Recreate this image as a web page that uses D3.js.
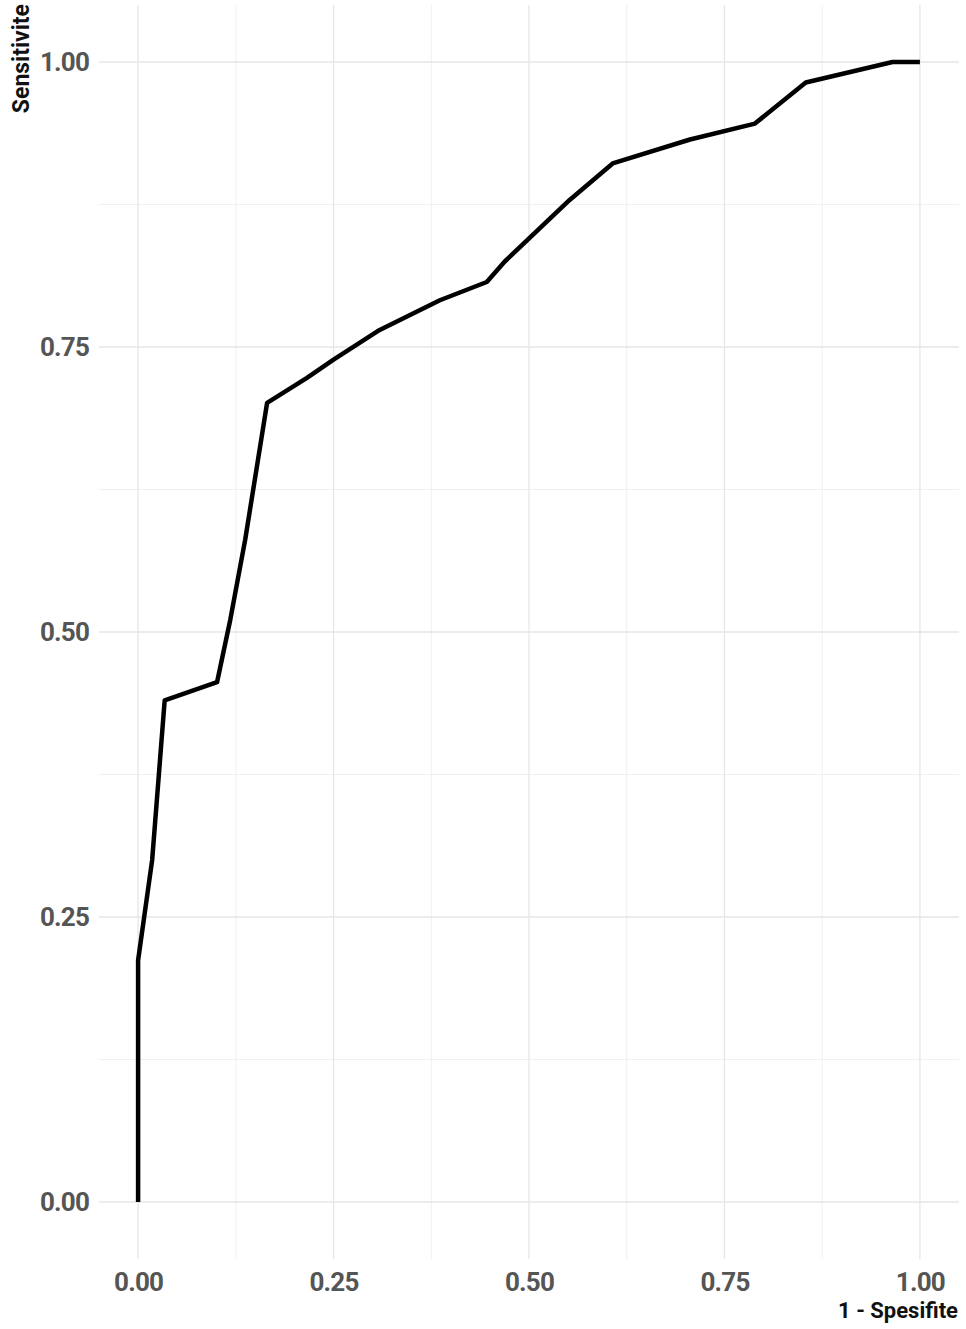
<!DOCTYPE html>
<html>
<head>
<meta charset="utf-8">
<script src="https://cdn.jsdelivr.net/npm/d3@7"></script>
<style>
  body { margin: 0; background: #fff; }
  text { font-family: Roboto, "Liberation Sans", sans-serif; font-weight: bold; }
</style>
</head>
<body>
<div id="chart"></div>
<script>
// ROC curve points (1 - specificity, sensitivity)
var fpr = [0, 0, 0.018, 0.034, 0.101, 0.118, 0.137, 0.165, 0.216, 0.25, 0.309, 0.386, 0.446, 0.469, 0.552, 0.607, 0.706, 0.789, 0.854, 0.965, 1];
var tpr = [0, 0.212, 0.30, 0.44, 0.456, 0.511, 0.581, 0.701, 0.723, 0.739, 0.765, 0.791, 0.807, 0.825, 0.879, 0.911, 0.932, 0.946, 0.982, 1, 1];
var majorTicks = [0, 0.25, 0.5, 0.75, 1];
var minorTicks = [0.125, 0.375, 0.625, 0.875];
var xTitle = "1 - Spesifite";
var yTitle = "Sensitivite";

var width = 966, height = 1329;
var panel = {left: 99, right: 959, top: 5, bottom: 1259};

var x = d3.scaleLinear().domain([-0.05, 1.05]).range([panel.left, panel.right]);
var y = d3.scaleLinear().domain([-0.05, 1.05]).range([panel.bottom, panel.top]);

var svg = d3.select("#chart")
  .append("svg")
  .attr("width", width)
  .attr("height", height);

// grid - minor
svg.append("g").selectAll("line")
  .data(minorTicks)
  .enter().append("line")
  .attr("x1", function(d) { return x(d); })
  .attr("x2", function(d) { return x(d); })
  .attr("y1", panel.top).attr("y2", panel.bottom)
  .attr("stroke", "#ececec").attr("stroke-width", 0.8);
svg.append("g").selectAll("line")
  .data(minorTicks)
  .enter().append("line")
  .attr("y1", function(d) { return y(d); })
  .attr("y2", function(d) { return y(d); })
  .attr("x1", panel.left).attr("x2", panel.right)
  .attr("stroke", "#ececec").attr("stroke-width", 0.8);

// grid - major
svg.append("g").selectAll("line")
  .data(majorTicks)
  .enter().append("line")
  .attr("x1", function(d) { return x(d); })
  .attr("x2", function(d) { return x(d); })
  .attr("y1", panel.top).attr("y2", panel.bottom)
  .attr("stroke", "#e6e6e6").attr("stroke-width", 1.3);
svg.append("g").selectAll("line")
  .data(majorTicks)
  .enter().append("line")
  .attr("y1", function(d) { return y(d); })
  .attr("y2", function(d) { return y(d); })
  .attr("x1", panel.left).attr("x2", panel.right)
  .attr("stroke", "#e6e6e6").attr("stroke-width", 1.3);

// axes (labels only)
var xAxis = svg.append("g")
  .attr("transform", "translate(0," + (panel.bottom + 4) + ")")
  .call(d3.axisBottom(x).tickValues(majorTicks).tickFormat(d3.format(".2f")).tickSize(0));
var yAxis = svg.append("g")
  .attr("transform", "translate(" + (panel.left - 7) + ",0)")
  .call(d3.axisLeft(y).tickValues(majorTicks).tickFormat(d3.format(".2f")).tickSize(0));
[xAxis, yAxis].forEach(function(a) {
  a.select(".domain").remove();
  a.selectAll("text")
    .style("font-family", "Roboto, sans-serif")
    .style("font-weight", "bold")
    .style("font-size", "26px")
    .style("letter-spacing", "-0.8px")
    .attr("fill", "#555");
});
xAxis.selectAll("text").attr("dy", "0.95em");

// titles
svg.append("text")
  .attr("x", 958)
  .attr("y", 1318)
  .attr("text-anchor", "end")
  .style("font-size", "22px")
  .attr("fill", "#111")
  .text(xTitle);

svg.append("text")
  .attr("transform", "translate(29,4) rotate(-90)")
  .attr("text-anchor", "end")
  .style("font-size", "23px")
  .attr("fill", "#111")
  .text(yTitle);

// curve
var pts = fpr.map(function(d, i) { return [d, tpr[i]]; });
var line = d3.line()
  .x(function(d) { return x(d[0]); })
  .y(function(d) { return y(d[1]); });

svg.append("path")
  .datum(pts)
  .attr("d", line)
  .attr("fill", "none")
  .attr("stroke", "#000")
  .attr("stroke-width", 4.5)
  .attr("stroke-linejoin", "round");
</script>
</body>
</html>
